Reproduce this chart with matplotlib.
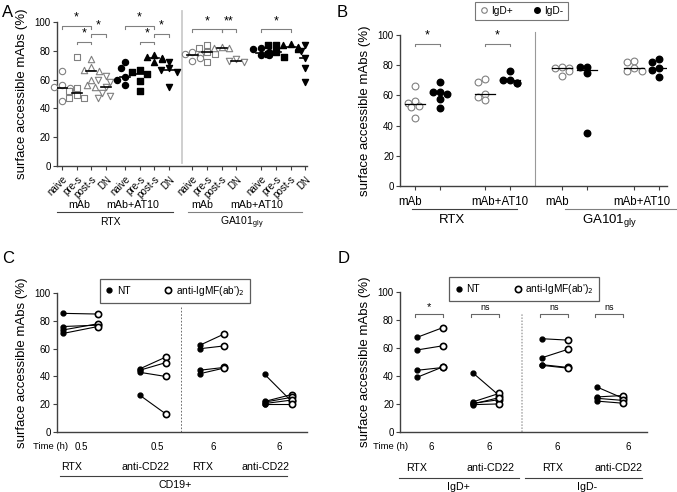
import numpy as np
import matplotlib.pyplot as plt
from matplotlib.lines import Line2D

plt.rcParams['font.family'] = ['Liberation Sans', 'DejaVu Sans']
plt.rcParams['font.size'] = 7.5

# ---------------- data ----------------
subsets = ['naive', 'pre-s', 'post-s', 'DN']

# panel A: RTX / GA101gly, mAb alone or mAb+AT10, per B cell subset
a_rtx_mab = [[66, 56, 55, 54, 52, 45],
             [76, 54.5, 52, 49.5, 47.5, 47],
             [74, 69, 67, 66, 60, 56, 55],
             [62.5, 60, 58.5, 55, 51, 48.5, 47]]
a_rtx_at10 = [[72, 68, 61.5, 60, 56],
              [67, 65, 64, 59, 52],
              [77, 76, 75, 74, 72],
              [72.5, 68, 66.5, 65, 55]]
a_ga_mab = [[79, 78, 77, 75, 73],
            [84, 82, 79, 78, 72],
            [83, 82, 82],
            [74, 73, 72]]
a_ga_at10 = [[82, 81, 79, 78, 77, 77],
             [84, 84, 79, 78, 76],
             [85, 84, 83, 82, 81],
             [84, 80, 75, 68, 58]]

# panel B: IgD+ / IgD- cells
b_igdp = [[66, 56, 55, 53, 52, 45], [71, 69, 61, 59, 57],
          [79, 78, 78, 76, 73], [83, 82, 78, 76, 76]]
b_igdm = [[69, 62.5, 62, 61, 57.5, 51.5], [76, 70, 70, 68.5, 68],
          [79, 79, 75, 35], [84, 82, 78, 77, 72]]

# panel C: CD19+ cells, NT vs anti-IgM F(ab')2 (paired)
c_nt = [[85.5, 76, 73.5, 71], [45.5, 44.5, 43, 26.5],
        [62.5, 60, 44.5, 42], [41.5, 22, 21.5, 20.5, 20]]
c_igm = [[85, 77, 78, 76], [54, 50, 40, 13],
         [70.5, 62, 46.5, 46], [22, 27, 25, 23, 20]]
c_time = ['0.5', '0.5', '6', '6']
c_mab = ['RTX', 'anti-CD22', 'RTX', 'anti-CD22']

# panel D: IgD+ / IgD- cells at 6 h
d_nt = [[67.5, 58.5, 44, 39], [42, 21.5, 20.5, 19.5, 20],
        [66.5, 53, 48, 47.5], [32, 25, 24, 22]]
d_igm = [[74.5, 61.5, 46, 46.5], [26, 27.5, 23, 20, 24.5],
         [65.5, 59, 46, 45.5], [24, 26, 22.5, 20.5]]
d_time = ['6', '6', '6', '6']
d_mab = ['RTX', 'anti-CD22', 'RTX', 'anti-CD22']

GRAY = '#808080'
SPINE = '#404040'
YLAB = 'surface accessible mAbs (%)'


def swarm(vals, x0, px_x, px_y, diam):
    """spread points that would overlap (simple beeswarm)"""
    vals = np.asarray(vals, float)
    xs = np.zeros(len(vals))
    placed = []
    for i in np.argsort(vals)[::-1]:
        best = 0
        for k in [0, -1, 1, -2, 2]:
            dx = k * diam * 0.6
            if all((dx - p) ** 2 + ((vals[i] - q) * px_y) ** 2 >= (diam * 0.95) ** 2
                   for p, q in placed):
                best = dx
                break
            best = dx
        placed.append((best, vals[i]))
        xs[i] = x0 + best / px_x
    return xs


def style(ax, xlim):
    ax.set_ylim(0, 100)
    ax.set_xlim(*xlim)
    ax.set_yticks(range(0, 101, 20))
    for s in ['top', 'right']:
        ax.spines[s].set_visible(False)
    for s in ['left', 'bottom']:
        ax.spines[s].set_color(SPINE)
        ax.spines[s].set_linewidth(1.0)
    ax.tick_params(colors=SPINE, labelcolor='black', length=3, width=0.8, labelsize=7, pad=1.5)
    ax.set_ylabel(YLAB, fontsize=9.5, labelpad=5)


def bracket(ax, x1, x2, y, label, h=2.0, fs=9, dy=1.5, color=GRAY):
    ax.plot([x1, x1, x2, x2], [y - h, y, y, y - h], color=color, lw=0.8, clip_on=False)
    ax.text((x1 + x2) / 2, y + dy, label, ha='center', va='bottom', fontsize=fs, clip_on=False)


def underline(ax, x1, x2, y, color=SPINE):
    ax.plot([x1, x2], [y, y], color=color, lw=0.8, transform=ax.get_xaxis_transform(), clip_on=False)


def put(ax, x, y, s, fs=7.5):
    ax.text(x, y, s, ha='center', va='center', fontsize=fs, transform=ax.get_xaxis_transform())


fig = plt.figure(figsize=(6.77, 4.92), dpi=100)

# ---------------- A ----------------
axA = fig.add_axes([0.084, 0.663, 0.369, 0.292])
starts_a = [0, 4.3, 8.9, 13.6]
groups_a = [a_rtx_mab, a_rtx_at10, a_ga_mab, a_ga_at10]
markers = ['o', 's', '^', 'v']
pos_a = []
for g, (start, grp) in enumerate(zip(starts_a, groups_a)):
    filled = g % 2 == 1
    for j, vals in enumerate(grp):
        x0 = start + j
        pos_a.append(x0)
        xs = swarm(vals, x0, 14.7, 1.44, 6.5)
        if filled:
            axA.scatter(xs, vals, marker=markers[j], s=19, color='black', zorder=3, clip_on=False)
        else:
            axA.scatter(xs, vals, marker=markers[j], s=21, facecolor='white', edgecolor=GRAY,
                        linewidth=0.8, zorder=3, clip_on=False)
        axA.plot([x0 - 0.35, x0 + 0.35], [np.median(vals)] * 2, color='black', lw=1.2, zorder=4)
style(axA, (-0.35, 16.7))
axA.set_xticks(pos_a)
axA.set_xticklabels(subsets * 4, rotation=45, ha='right', rotation_mode='anchor', fontsize=7)
axA.tick_params(axis='x', pad=3)
axA.plot([8.2, 8.2], [2, 108], color='#cccccc', lw=1.3, clip_on=False)
for start in starts_a[:2]:
    bracket(axA, start, start + 2, 97.5, '*')
    bracket(axA, start + 1, start + 2, 86.5, '*')
    bracket(axA, start + 2, start + 3, 92, '*')
bracket(axA, starts_a[2], starts_a[2] + 2, 95, '*')
bracket(axA, starts_a[2] + 2, starts_a[2] + 3, 95, '**')
bracket(axA, starts_a[3], starts_a[3] + 2, 95, '*')
put(axA, 1.2, -0.275, 'mAb', 7.7)
put(axA, 4.8, -0.275, 'mAb+AT10', 7.7)
put(axA, 9.6, -0.275, 'mAb', 7.7)
put(axA, 13.3, -0.275, 'mAb+AT10', 7.7)
underline(axA, -0.35, 7.55, -0.325)
underline(axA, 8.6, 16.4, -0.325, color=GRAY)
put(axA, 3.3, -0.39, 'RTX', 7.5)
put(axA, 12.3, -0.40, 'GA101$_{\\mathregular{gly}}$', 7.5)

# ---------------- B ----------------
axB = fig.add_axes([0.591, 0.622, 0.394, 0.307])
pos_b = [0, 1, 2.8, 3.8, 5.9, 6.9, 8.8, 9.8]
for k in range(4):
    for vals, x0, filled in [(b_igdp[k], pos_b[2 * k], False), (b_igdm[k], pos_b[2 * k + 1], True)]:
        xs = swarm(vals, x0, 25, 1.51, 6)
        if filled:
            axB.scatter(xs, vals, s=22, color='black', zorder=3)
        else:
            axB.scatter(xs, vals, s=24, facecolor='white', edgecolor=GRAY, linewidth=0.8, zorder=3)
        axB.plot([x0 - 0.4, x0 + 0.4], [np.median(vals)] * 2, color='black', lw=0.9, zorder=4)
style(axB, (-0.6, 10.1))
axB.set_xticks(pos_b)
axB.set_xticklabels([])
axB.plot([4.8, 4.8], [0, 102], color='#999999', lw=0.8, clip_on=False)
bracket(axB, 0, 1, 94, '*', h=1.5)
bracket(axB, 2.8, 3.8, 94, '*', h=1.5)
put(axB, -0.2, -0.105, 'mAb', 8.3)
put(axB, 3.4, -0.105, 'mAb+AT10', 8.3)
put(axB, 5.7, -0.105, 'mAb', 8.3)
put(axB, 9.1, -0.105, 'mAb+AT10', 8.3)
underline(axB, -0.12, 4.08, -0.152)
underline(axB, 6.0, 10.9, -0.152, color=GRAY)
put(axB, 1.48, -0.225, 'RTX', 9.5)
put(axB, 7.8, -0.23, 'GA101$_{\\mathregular{gly}}$', 9.5)
legB = fig.legend(handles=[Line2D([], [], marker='o', ls='none', ms=4, mfc='white', mec=GRAY, mew=0.8),
                           Line2D([], [], marker='o', ls='none', ms=4, color='black')],
                  labels=['IgD+', 'IgD-'], ncol=2, loc='center', bbox_to_anchor=(0.77, 0.978),
                  fontsize=7.3, frameon=True, fancybox=False, edgecolor='#555555',
                  handletextpad=0.3, columnspacing=1.9, handlelength=0.9, borderpad=0.4)
legB.get_frame().set_linewidth(0.8)


# ---------------- C / D ----------------
def paired(ax, pos, nt, igm, vline, vstyle):
    for k in range(4):
        x1, x2 = pos[2 * k], pos[2 * k + 1]
        for a, b in zip(nt[k], igm[k]):
            ax.plot([x1, x2], [a, b], color='black', lw=0.8, zorder=2)
        ax.plot([x1] * len(nt[k]), nt[k], 'o', color='black', ms=3.5, zorder=3)
        ax.plot([x2] * len(igm[k]), igm[k], 'o', mfc='white', mec='black', mew=1.2, ms=4.5, zorder=3)
    ax.set_xticks([])
    ax.plot([vline[0]] * 2, [0, vline[1]], clip_on=False, **vstyle)
    leg = ax.legend(handles=[Line2D([], [], marker='o', ls='none', ms=3.5, color='black'),
                             Line2D([], [], marker='o', ls='none', ms=4.5, mfc='white', mec='black', mew=1.2)],
                    labels=['NT', "anti-IgMF(ab')$_2$"], ncol=2, loc='center',
                    fontsize=7.3, frameon=True, fancybox=False, edgecolor='#333333',
                    handletextpad=0.3, columnspacing=3.3, handlelength=0.9, borderpad=0.5)
    leg.get_frame().set_linewidth(0.9)
    return leg


axC = fig.add_axes([0.084, 0.122, 0.369, 0.282])
pos_c = [0.24, 1.64, 3.32, 4.36, 5.72, 6.68, 8.32, 9.4]
style(axC, (0, 10))
legC = paired(axC, pos_c, c_nt, c_igm, (4.96, 90),
              dict(color='#555555', lw=0.6, ls=(0, (2, 2))))
legC.set_bbox_to_anchor((0.258, 0.409), transform=fig.transFigure)
put(axC, -0.24, -0.108, 'Time (h)', 6.8)
for x, t in zip([0.96, 4.04, 6.24, 8.92], c_time):
    put(axC, x, -0.108, t, 7)
for x, t in zip([0.6, 3.56, 5.84, 8.36], c_mab):
    put(axC, x, -0.252, t, 7.7)
underline(axC, 0.12, 9.2, -0.317)
put(axC, 4.72, -0.385, 'CD19+', 7.7)

axD = fig.add_axes([0.591, 0.122, 0.365, 0.285])
pos_d = [0.68, 1.72, 2.92, 3.96, 5.68, 6.72, 7.88, 8.92]
style(axD, (0, 9.88))
legD = paired(axD, pos_d, d_nt, d_igm, (4.88, 84),
              dict(color='#aaaaaa', lw=1.1, ls=(0, (1, 1))))
legD.set_bbox_to_anchor((0.774, 0.412), transform=fig.transFigure)
for k, lab in enumerate(['*', 'ns', 'ns', 'ns']):
    bracket(axD, pos_d[2 * k] - 0.1, pos_d[2 * k + 1], 84, lab, h=2, fs=8 if lab == '*' else 6.5,
            dy=1.5, color='#666666')
put(axD, -0.4, -0.107, 'Time (h)', 6.8)
for x, t in zip([1.24, 3.56, 6.28, 9.12], d_time):
    put(axD, x, -0.107, t, 7)
for x, t in zip([0.68, 3.6, 6.08, 8.72], d_mab):
    put(axD, x, -0.257, t, 7.7)
underline(axD, -0.04, 4.76, -0.33)
underline(axD, 5.0, 9.68, -0.33)
put(axD, 2.32, -0.39, 'IgD+', 7.7)
put(axD, 7.48, -0.39, 'IgD-', 7.7)

# panel letters
for x, y, s in [(0.003, 0.99, 'A'), (0.497, 0.99, 'B'), (0.003, 0.49, 'C'), (0.498, 0.49, 'D')]:
    fig.text(x, y, s, fontsize=12, va='top', ha='left')

fig.savefig('out.png', dpi=100)
